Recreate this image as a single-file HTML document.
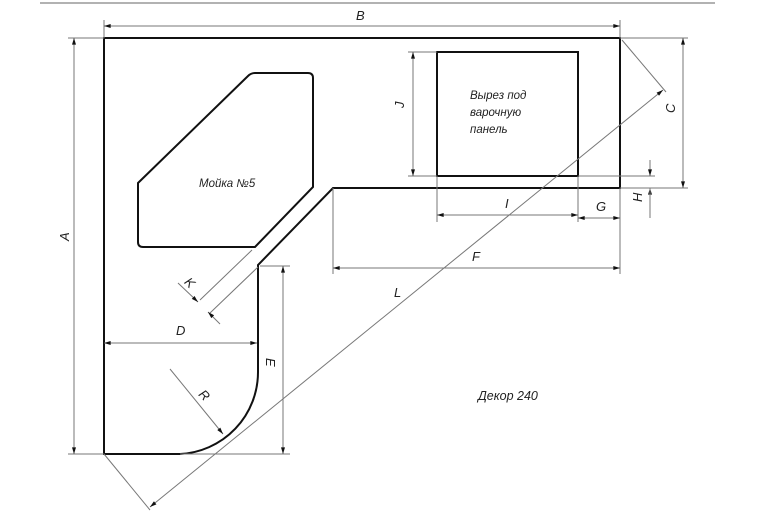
<!DOCTYPE html>
<html><head><meta charset="utf-8"><style>
html,body{margin:0;padding:0;background:#fff;}
svg{display:block}
text{font-family:"Liberation Sans","DejaVu Sans",sans-serif;font-style:italic;fill:#222;}
</style></head><body>
<svg width="762" height="518" viewBox="0 0 762 518" xmlns="http://www.w3.org/2000/svg">
<defs>
<marker id="a" viewBox="0 0 10 6" refX="10" refY="3" markerWidth="10" markerHeight="4" orient="auto-start-reverse" markerUnits="userSpaceOnUse"><path d="M0,0 L10,3 L0,6z" fill="#111"/></marker>
</defs>
<line x1="40" y1="3" x2="715" y2="3" stroke="#999" stroke-width="1.5"/>
<!-- outline -->
<path d="M104,38 H620 V188 H333 L258,265 V372 A82,82 0 0 1 180,454 H104 Z" fill="none" stroke="#111" stroke-width="2"/>
<!-- sink -->
<path d="M138,183 L248,76 Q251,73 255,73 H308 Q313,73 313,78 V187 L255,247 H143 Q138,247 138,242 Z" fill="none" stroke="#111" stroke-width="2"/>
<!-- hob cutout -->
<rect x="437" y="52" width="141" height="124" fill="none" stroke="#111" stroke-width="2"/>
<g stroke="#777" stroke-width="1" fill="none">
<!-- B -->
<line x1="104" y1="20" x2="104" y2="38"/><line x1="620" y1="20" x2="620" y2="38"/>
<line x1="104" y1="26" x2="620" y2="26" marker-start="url(#a)" marker-end="url(#a)"/>
<!-- A -->
<line x1="68" y1="38" x2="104" y2="38"/><line x1="68" y1="454" x2="104" y2="454"/>
<line x1="74" y1="38" x2="74" y2="454" marker-start="url(#a)" marker-end="url(#a)"/>
<!-- C -->
<line x1="620" y1="38" x2="688" y2="38"/><line x1="620" y1="188" x2="688" y2="188"/>
<line x1="683" y1="38" x2="683" y2="188" marker-start="url(#a)" marker-end="url(#a)"/>
<!-- J -->
<line x1="408" y1="52" x2="437" y2="52"/><line x1="408" y1="176" x2="437" y2="176"/>
<line x1="413" y1="52" x2="413" y2="176" marker-start="url(#a)" marker-end="url(#a)"/>
<!-- H -->
<line x1="578" y1="176" x2="655" y2="176"/><line x1="620" y1="188" x2="655" y2="188"/>
<line x1="650" y1="160" x2="650" y2="176" marker-end="url(#a)"/>
<line x1="650" y1="204" x2="650" y2="188" marker-end="url(#a)"/>
<line x1="650" y1="188" x2="650" y2="218"/>
<!-- extension down -->
<line x1="437" y1="176" x2="437" y2="222"/><line x1="578" y1="176" x2="578" y2="222"/>
<line x1="620" y1="188" x2="620" y2="274"/><line x1="333" y1="188" x2="333" y2="274"/>
<!-- I G F -->
<line x1="437" y1="215" x2="578" y2="215" marker-start="url(#a)" marker-end="url(#a)"/>
<line x1="578" y1="218" x2="620" y2="218" marker-start="url(#a)" marker-end="url(#a)"/>
<line x1="333" y1="268" x2="620" y2="268" marker-start="url(#a)" marker-end="url(#a)"/>
<!-- L -->
<line x1="104" y1="454" x2="150" y2="510"/><line x1="622" y1="40" x2="666" y2="92"/>
<line x1="150" y1="507" x2="663" y2="90" marker-start="url(#a)" marker-end="url(#a)"/>
<!-- K -->
<line x1="252" y1="250" x2="200" y2="300"/><line x1="258" y1="267" x2="210" y2="313"/>
<line x1="178" y1="283" x2="198" y2="302" marker-end="url(#a)"/>
<line x1="220" y1="324" x2="208" y2="312" marker-end="url(#a)"/>
<!-- D -->
<line x1="104" y1="343" x2="257" y2="343" marker-start="url(#a)" marker-end="url(#a)"/>
<!-- E -->
<line x1="260" y1="266" x2="290" y2="266"/><line x1="180" y1="454" x2="290" y2="454"/>
<line x1="283" y1="266" x2="283" y2="454" marker-start="url(#a)" marker-end="url(#a)"/>
<!-- R -->
<line x1="170" y1="369" x2="223" y2="434" marker-end="url(#a)"/>
</g>
<g font-size="13">
<text x="356" y="20">В</text>
<text x="68" y="250" transform="rotate(-90 64 245)">A</text>
<text x="674" y="118" transform="rotate(-90 672 115)">C</text>
<text x="404" y="116" transform="rotate(-90 400 112)">J</text>
<text x="505" y="208">I</text>
<text x="596" y="211">G</text>
<text x="640" y="210" transform="rotate(-90 637 205)">H</text>
<text x="472" y="261">F</text>
<text x="394" y="297">L</text>
<text x="176" y="335">D</text>
<text x="274" y="360" transform="rotate(90 271 355)">E</text>
<text x="200" y="400" transform="rotate(45 205 395)">R</text>
<text x="186" y="287" transform="rotate(45 190 282)">K</text>
</g>
<g font-size="11.5">
<text x="199" y="187">Мойка №5</text>
<text x="470" y="99">Вырез под</text>
<text x="470" y="116">варочную</text>
<text x="470" y="133">панель</text>
<text x="478" y="400" font-size="12.5">Декор 240</text>
</g>
</svg>
</body></html>
